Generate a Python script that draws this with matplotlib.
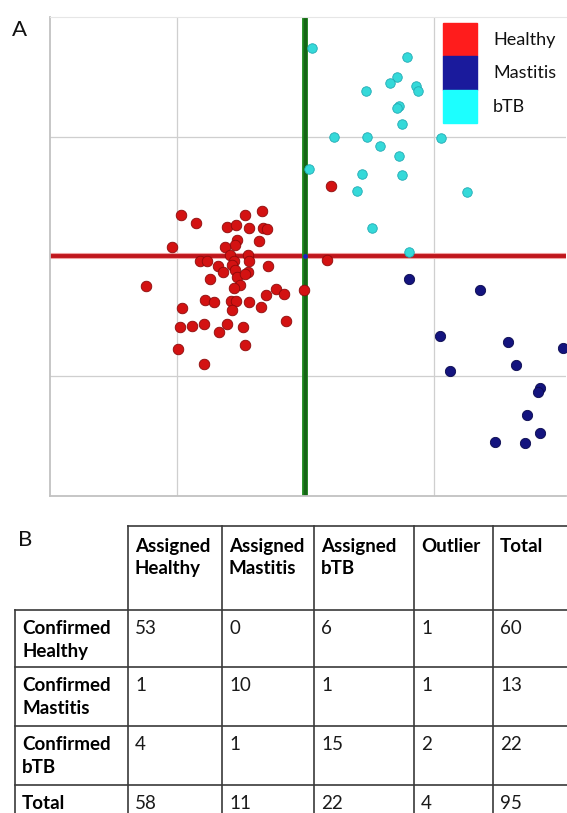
import matplotlib
matplotlib.use("Agg")
import matplotlib.pyplot as plt
from matplotlib.patches import Rectangle

plt.rcParams["font.family"] = ["Lato", "DejaVu Sans"]

# panel A: scores in grid units (gridlines at -1, 0, 1)
healthy_x = [-0.97, -0.85, -0.47, -0.34, -0.61, -0.54, -0.44, -0.33, -0.30, -0.53,
             -0.55, -0.36, -0.63, -1.04, -0.59, -0.45, -0.82, -0.77, -0.56, -0.44,
             -0.68, -0.57, -0.29, -0.64, -0.55, -0.45, -0.53, -0.47, -0.74, -0.51,
             -0.56, -1.24, -0.23, -0.17, -0.31, -0.01, -0.78, -0.71, -0.58, -0.54,
             -0.44, -0.57, -0.35, -0.96, -0.98, -0.88, -0.79, -0.61, -0.67, -0.49,
             -0.15, -0.99, -0.47, -0.79, 0.20, 0.17]
healthy_y = [0.35, 0.28, 0.35, 0.38, 0.25, 0.26, 0.24, 0.24, 0.23, 0.14,
             0.10, 0.13, 0.08, 0.08, 0.01, 0.01, -0.04, -0.04, -0.04, -0.04,
             -0.08, -0.07, -0.08, -0.13, -0.11, -0.13, -0.17, -0.15, -0.19, -0.24,
             -0.26, -0.25, -0.27, -0.31, -0.32, -0.28, -0.36, -0.38, -0.37, -0.37,
             -0.38, -0.45, -0.42, -0.43, -0.59, -0.58, -0.56, -0.56, -0.63, -0.59,
             -0.54, -0.77, -0.74, -0.90, 0.59, -0.03]

btb_x = [0.05, 0.79, 0.71, 0.66, 0.86, 0.88, 0.47, 0.73, 0.71, 0.75, 0.22,
         0.48, 1.06, 0.58, 0.73, 0.03, 0.44, 0.75, 0.40, 1.26, 0.52, 0.81]
btb_y = [1.74, 1.67, 1.50, 1.45, 1.42, 1.38, 1.38, 1.26, 1.24, 1.11, 1.00,
         1.00, 0.99, 0.92, 0.84, 0.73, 0.69, 0.68, 0.55, 0.54, 0.24, 0.04]

mastitis_x = [0.81, 1.36, 1.05, 1.58, 2.01, 1.13, 1.64, 1.83, 1.81, 1.73, 1.83, 1.48, 1.71]
mastitis_y = [-0.19, -0.28, -0.66, -0.71, -0.76, -0.96, -0.91, -1.10, -1.13, -1.32,
              -1.47, -1.55, -1.56]

legend_labels = ["Healthy", "Mastitis", "bTB"]
legend_colors = ["#ff1c1c", "#1a1a9c", "#1cffff"]

# panel B: confusion table
col_labels = ["Assigned\nHealthy", "Assigned\nMastitis", "Assigned\nbTB", "Outlier", "Total"]
row_labels = ["Confirmed\nHealthy", "Confirmed\nMastitis", "Confirmed\nbTB", "Total"]
cells = [
    [53, 0, 6, 1, 60],
    [1, 10, 1, 1, 13],
    [4, 1, 15, 2, 22],
    [58, 11, 22, 4, 95],
]


def draw_scatter(fig):
    W, H = 567, 813
    ax = fig.add_axes([50 / W, 1 - 496 / H, 516 / W, 479 / H])
    ax.set_xlim(-1.99, 2.03)
    ax.set_ylim(-2.0, 2.0)
    ax.set_xticks([-1, 0, 1])
    ax.set_yticks([-1, 0, 1])
    ax.tick_params(length=0, labelbottom=False, labelleft=False)
    ax.grid(True, color="#cfcfcf", lw=0.9)
    for side in ["left", "bottom"]:
        ax.spines[side].set_color("#c2c2c2")
        ax.spines[side].set_linewidth(1.3)
    ax.spines["top"].set_color("#e6e6e6")
    ax.spines["right"].set_visible(False)

    ax.axhline(0, color="#f0a0a0", lw=4.4, zorder=2)
    ax.axhline(0, color="#c0161c", lw=2.8, zorder=2)
    ax.axvline(0, color="#1e8a1e", lw=4.2, zorder=2)
    ax.axvline(0, color="#166416", lw=2.4, zorder=2)

    ax.scatter(healthy_x, healthy_y, s=58, color="#d31212", edgecolor="#8c0a0a",
               lw=0.6, zorder=3)
    ax.scatter(btb_x, btb_y, s=47, color="#35d9d9", edgecolor="#22aab4",
               lw=0.6, zorder=3)
    ax.scatter(mastitis_x, mastitis_y, s=55, color="#14147e", edgecolor="#0a0a4e",
               lw=0.6, zorder=3, clip_on=False)
    ax.scatter([0], [0], s=6, color="#2020c0", zorder=4)

    # legend: stacked colour bands with labels
    x0, w, h, top = (443 - 50) / 516, 34 / 516, 33.5 / 479, 1 - (23 - 17) / 479
    for i, (lab, col) in enumerate(zip(legend_labels, legend_colors)):
        y = top - (i + 1) * h
        ax.add_patch(Rectangle((x0, y), w, h, transform=ax.transAxes,
                               color=col, zorder=5, clip_on=False))
        ax.text((493 - 50) / 516, y + h / 2, lab, transform=ax.transAxes,
                fontsize=13, va="center", ha="left", color="#111111", zorder=5)
    return ax


def draw_table(ov):
    col_edges = [15, 128, 222, 314, 414, 493, 600]
    row_edges = [526, 610, 667, 726, 785, 845]
    lc, lw = "#3a3a3a", 1.2
    # header top border and header column lines
    ov.plot([col_edges[1], col_edges[-1]], [row_edges[0]] * 2, color=lc, lw=lw)
    for r in row_edges[1:]:
        ov.plot([col_edges[0], col_edges[-1]], [r, r], color=lc, lw=lw)
    ov.plot([col_edges[0]] * 2, [row_edges[1], row_edges[-1]], color=lc, lw=lw)
    for c in col_edges[1:-1]:
        ov.plot([c, c], [row_edges[0], row_edges[-1]], color=lc, lw=lw)

    line_gap = 22
    for j, lab in enumerate(col_labels):
        for k, part in enumerate(lab.split("\n")):
            ov.text(col_edges[j + 1] + 7, row_edges[0] + 20.5 + k * line_gap, part,
                    fontsize=13.5, fontweight="bold", va="center", ha="left", color="#000000")
    for i, lab in enumerate(row_labels):
        y0 = row_edges[i + 1] + 18
        for k, part in enumerate(lab.split("\n")):
            ov.text(col_edges[0] + 7, y0 + k * 23, part, fontsize=13.5,
                    fontweight="bold", va="center", ha="left", color="#000000")
        for j, v in enumerate(cells[i]):
            ov.text(col_edges[j + 1] + 7, y0, str(v), fontsize=13.5,
                    va="center", ha="left", color="#1a1a1a")


def main():
    fig = plt.figure(figsize=(5.67, 8.13), dpi=100)
    ov = fig.add_axes([0, 0, 1, 1])
    ov.set_xlim(0, 567)
    ov.set_ylim(813, 0)
    ov.axis("off")
    draw_table(ov)
    ov.text(19, 30, "A", fontsize=16, va="center", ha="center", color="#111111")
    ov.text(25, 540, "B", fontsize=16, va="center", ha="center", color="#111111")
    draw_scatter(fig)
    fig.savefig("out.png", dpi=100)


if __name__ == "__main__":
    main()
